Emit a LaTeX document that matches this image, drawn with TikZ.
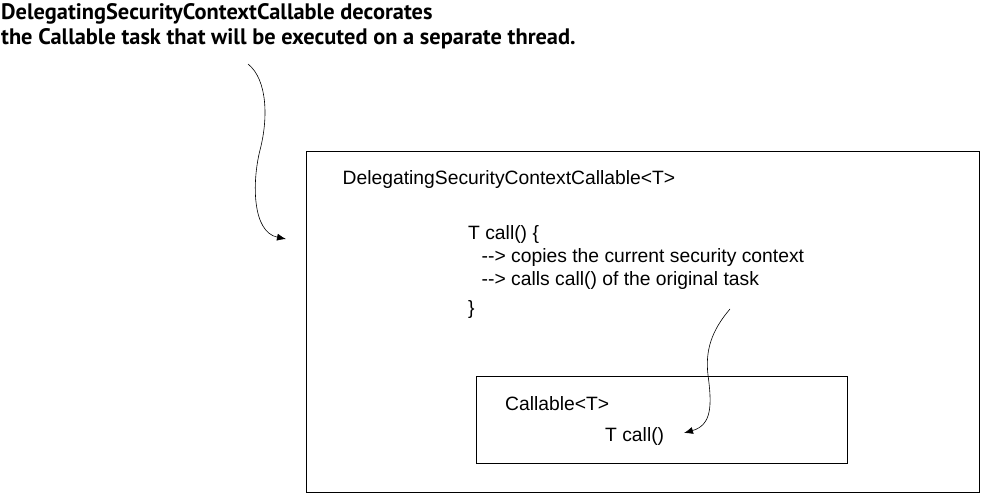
\documentclass[tikz,border=0pt]{standalone}
\usepackage{fontspec}
\setmainfont{Liberation Sans}
\newfontfamily\titlefont{PT Sans}
\usetikzlibrary{arrows.meta}

\tikzset{
	box/.style={draw, line width=1.3pt, inner sep=0pt},
	code/.style={anchor=base west, inner sep=0pt, font=\fontsize{19.3}{23}\selectfont},
	note/.style={anchor=base west, inner sep=0pt, font=\titlefont\bfseries\fontsize{22.4}{24}\selectfont},
	curly/.style={line width=0.6pt, -{Latex[length=9pt,width=7pt]}}
}

\begin{document}
\begin{tikzpicture}[x=1pt, y=-1pt]
		\useasboundingbox (0,0) rectangle (982,494);

		%note
		\node[note] (note1) at (1,20) {DelegatingSecurityContextCallable decorates};
		\node[note] (note2) at (1,44.5) {the Callable task that will be executed on a separate thread.};

		%DelegatingSecurityContextCallable
		\node[box, minimum width=673pt, minimum height=341pt, anchor=north west] (outer) at (306,151) {};
		\node[code] (dname) at (342.5,185) {DelegatingSecurityContextCallable<T>};
		\node[code] (dcall) at (468,240) {T call() \{};
		\node[code] (dcopy) at (481.5,262) {-{}-> copies the current security context};
		\node[code] (dcalls) at (481.5,285) {-{}-> calls call() of the original task};
		\node[code] (dend) at (468,314) {\}};

		%Callable
		\node[box, minimum width=371pt, minimum height=87pt, anchor=north west] (inner) at (475.5,376) {};
		\node[code] (cname) at (505,410) {Callable<T>};
		\node[code] (ccall) at (605,441.5) {T call()};

		%arrows
		\coordinate (s1) at (248,64);
		\coordinate (t1) at (286,239);
		\coordinate (s2) at (730,309);
		\coordinate (t2) at (684,433);
		\draw[curly] (s1) .. controls (268,80) and (268,120) .. (260,150)
			.. controls (252,182) and (252,232) .. (t1);
		\draw[curly] (s2) .. controls (712,330) and (705,350) .. (708,375)
			.. controls (712,405) and (712,425) .. (t2);
	\end{tikzpicture}
\end{document}
